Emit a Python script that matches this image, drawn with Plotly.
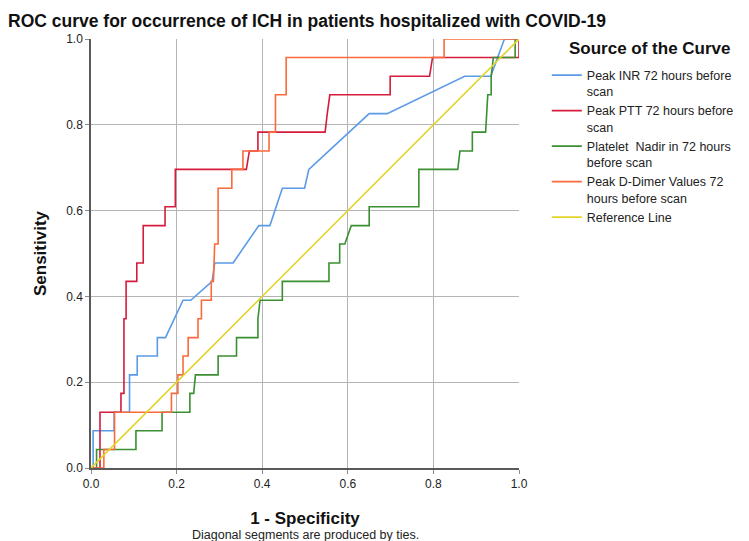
import plotly.graph_objects as go

# ROC points (1 - specificity, sensitivity)
inr_fpr = [0, 0.005, 0.005, 0.054, 0.054, 0.09, 0.09, 0.108, 0.108, 0.155, 0.155, 0.174, 0.215, 0.233,
           0.283, 0.289, 0.332, 0.392, 0.418, 0.447, 0.499, 0.509, 0.65, 0.692, 0.873, 0.934, 0.966, 1.0]
inr_tpr = [0, 0, 0.087, 0.087, 0.13, 0.13, 0.217, 0.217, 0.261, 0.261, 0.304, 0.304, 0.391, 0.391,
           0.435, 0.478, 0.478, 0.565, 0.565, 0.652, 0.652, 0.696, 0.826, 0.826, 0.913, 0.913, 1.0, 1.0]

ptt_fpr = [0, 0.021, 0.021, 0.07, 0.07, 0.077, 0.077, 0.082, 0.082, 0.107, 0.107, 0.122, 0.122, 0.173,
           0.173, 0.197, 0.197, 0.363, 0.37, 0.39, 0.39, 0.547, 0.552, 0.558, 0.699, 0.699, 0.791, 0.798,
           1.0, 1.0]
ptt_tpr = [0, 0, 0.13, 0.13, 0.174, 0.174, 0.348, 0.348, 0.435, 0.435, 0.478, 0.478, 0.565, 0.565,
           0.609, 0.609, 0.696, 0.696, 0.739, 0.739, 0.783, 0.783, 0.826, 0.87, 0.87, 0.913, 0.913, 0.957,
           0.957, 1.0]

plt_fpr = [0, 0.013, 0.013, 0.105, 0.105, 0.166, 0.166, 0.231, 0.231, 0.24, 0.244, 0.297, 0.297, 0.34,
           0.34, 0.39, 0.39, 0.395, 0.447, 0.447, 0.556, 0.556, 0.581, 0.581, 0.593, 0.608, 0.65, 0.65,
           0.766, 0.766, 0.857, 0.862, 0.891, 0.891, 0.922, 0.927, 0.935, 0.935, 0.94, 0.991, 0.991, 1.0]
plt_tpr = [0, 0, 0.043, 0.043, 0.087, 0.087, 0.13, 0.13, 0.174, 0.174, 0.217, 0.217, 0.261, 0.261,
           0.304, 0.304, 0.348, 0.391, 0.391, 0.435, 0.435, 0.478, 0.478, 0.522, 0.522, 0.565, 0.565, 0.609,
           0.609, 0.696, 0.696, 0.739, 0.739, 0.783, 0.783, 0.87, 0.87, 0.913, 0.957, 0.957, 1.0, 1.0]

ddimer_fpr = [0, 0.03, 0.03, 0.055, 0.055, 0.188, 0.188, 0.203, 0.203, 0.215, 0.215, 0.227, 0.227, 0.25,
              0.25, 0.258, 0.258, 0.281, 0.281, 0.286, 0.289, 0.297, 0.297, 0.329, 0.329, 0.355, 0.355,
              0.416, 0.416, 0.431, 0.431, 0.456, 0.456, 0.825, 0.825, 1.0]
ddimer_tpr = [0, 0, 0.043, 0.043, 0.13, 0.13, 0.174, 0.174, 0.217, 0.217, 0.261, 0.261, 0.304, 0.304,
              0.348, 0.348, 0.391, 0.391, 0.435, 0.435, 0.522, 0.522, 0.652, 0.652, 0.696, 0.696, 0.739,
              0.739, 0.783, 0.783, 0.87, 0.87, 0.957, 0.957, 1.0, 1.0]

ref_fpr = [0, 1]
ref_tpr = [0, 1]

series = [
    ("Peak INR 72 hours before<br>scan", inr_fpr, inr_tpr, "#5b9be6"),
    ("Peak PTT 72 hours before<br>scan", ptt_fpr, ptt_tpr, "#d51c3c"),
    ("Platelet  Nadir in 72 hours<br>before scan", plt_fpr, plt_tpr, "#3a8f30"),
    ("Peak D-Dimer Values 72<br>hours before scan", ddimer_fpr, ddimer_tpr, "#fb6a3c"),
    ("Reference Line", ref_fpr, ref_tpr, "#e3d42a"),
]

ticks = [0, 0.2, 0.4, 0.6, 0.8, 1.0]
tick_text = ["0.0", "0.2", "0.4", "0.6", "0.8", "1.0"]

fig = go.Figure()
for name, x, y, color in series:
    fig.add_trace(go.Scatter(x=x, y=y, mode="lines", name=name,
                             line=dict(color=color, width=1.6)))

font = "Liberation Sans, Arial, sans-serif"
axis_common = dict(
    range=[0, 1], tickvals=ticks, ticktext=tick_text,
    showgrid=True, gridcolor="#b4b4b4", gridwidth=1,
    showline=True, linecolor="#5a5a5a", linewidth=1.5,
    ticks="outside", ticklen=4, tickcolor="#8a8a8a",
    tickfont=dict(size=12, color="#222", family=font),
    zeroline=False, fixedrange=True, automargin=False,
)
fig.update_xaxes(**axis_common, title=dict(text="<b>1 - Specificity</b>", standoff=22,
                                            font=dict(size=17, color="#111", family=font)))
fig.update_yaxes(**axis_common, title=dict(text="<b>Sensitivity</b>", standoff=15,
                                            font=dict(size=17, color="#111", family=font)))

fig.add_annotation(text="Diagonal segments are produced by ties.", xref="paper", yref="paper",
                   x=0.5, y=-0.156, showarrow=False, yanchor="middle",
                   font=dict(size=12.5, color="#222", family=font))
# legend heading
fig.add_annotation(text="<b>Source of the Curve</b>", xref="paper", yref="paper",
                   x=1.305, y=0.978, showarrow=False, xanchor="center", yanchor="middle",
                   font=dict(size=17, color="#111", family=font))

fig.update_layout(
    width=749, height=541,
    margin=dict(l=83, r=238, t=31, b=81),
    plot_bgcolor="white", paper_bgcolor="white",
    title=dict(text="<b>ROC curve for occurrence of ICH in patients hospitalized with COVID-19</b>",
               x=0, xref="container", xanchor="left", y=0.976, yanchor="middle",
               font=dict(size=17.5, color="#111", family=font)),
    legend=dict(
        x=1.065, xanchor="left", y=0.95, yanchor="top",
        font=dict(size=12.5, color="#222", family=font),
        valign="top", tracegroupgap=0, itemwidth=30,
    ),
)

fig.write_html("out.html")
